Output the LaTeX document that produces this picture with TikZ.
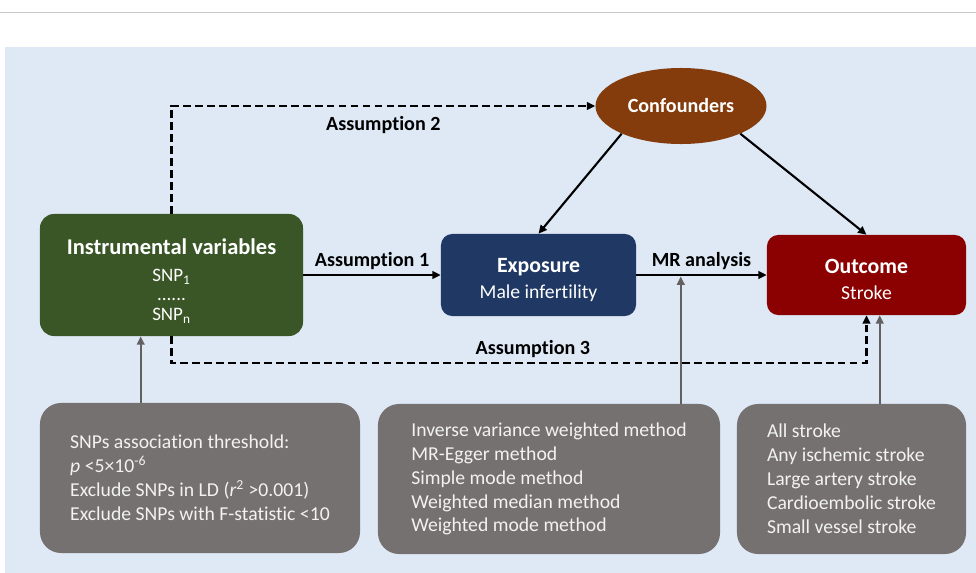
\documentclass[tikz,border=0pt]{standalone}
\usepackage{fontspec}
\setmainfont{Carlito}[Ligatures=NoCommon]
\usepackage{xcolor}
\usetikzlibrary{arrows.meta, positioning, shapes.geometric}
\definecolor{PanelBlue}{HTML}{DEE9F5}
\definecolor{IVGreen}{HTML}{3A5626}
\definecolor{ExpBlue}{HTML}{1F3864}
\definecolor{OutRed}{HTML}{8B0000}
\definecolor{ConfBrown}{HTML}{843C0C}
\definecolor{NoteGray}{HTML}{767171}
\definecolor{RuleGray}{HTML}{C8C8C8}

\begin{document}
\begin{tikzpicture}[x=0.025cm, y=-0.025cm,
    mainbox/.style={rounded corners=8pt, text=white, align=center, inner sep=0pt},
    notebox/.style={fill=NoteGray, rounded corners=15pt, text=white!95!black, align=left,
        inner sep=0pt, minimum height=3.75cm, font=\fontsize{14}{17}\selectfont},
    arr/.style={line width=1.5pt, -{Triangle[length=6pt,width=5.5pt]}},
    dasharr/.style={arr, line width=1.7pt, dash pattern=on 5.5pt off 3pt},
    grayarr/.style={line width=1.4pt, NoteGray!85!black, -{Triangle[length=6pt,width=5.5pt]}},
    lbl/.style={font=\bfseries\fontsize{14.3}{17}\selectfont}]
    \useasboundingbox (0,0) rectangle (976,573);

    % background panel and top rule
    \draw[RuleGray, line width=0.7pt] (0,12) -- (976,12);
    \fill[PanelBlue] (5,47) rectangle (976,573);

    % main boxes
    \node[mainbox, fill=IVGreen, rounded corners=10pt, minimum width=6.575cm, minimum height=3.05cm,
        font=\fontsize{13.5}{15}\selectfont] (iv) at (171.5,275)
        {\rule{0pt}{20pt}{\bfseries\fontsize{16}{18}\selectfont Instrumental variables}\\[4pt]
         SNP\textsubscript{1}\\[-1pt] ......\\[-1pt] SNP\textsubscript{n}};
    \node[mainbox, fill=ExpBlue, minimum width=4.875cm, minimum height=2.05cm,
        font=\fontsize{14}{17}\selectfont] (expo) at (538.5,275)
        {\rule{0pt}{17pt}{\bfseries\fontsize{15.5}{18}\selectfont Exposure}\\[1.5pt] Male infertility};
    \node[mainbox, fill=OutRed, minimum width=4.975cm, minimum height=2cm,
        font=\fontsize{14}{17}\selectfont] (outc) at (866.5,275)
        {\rule{0pt}{17pt}{\bfseries\fontsize{15.5}{18}\selectfont Outcome}\\[1.5pt] Stroke};
    \node[ellipse, fill=ConfBrown, text=white, minimum width=4.275cm, minimum height=1.9cm,
        inner sep=0pt, lbl] (conf) at (681,106) {Confounders};

    % notes
    \node[notebox, minimum width=8cm] (thr) at (200,478)
        {SNPs association threshold:\\
         \textit{p} <5\texttimes10\textsuperscript{-6}\\
         Exclude SNPs in LD (\textit{r}\textsuperscript{2} >0.001)\\
         Exclude SNPs with F-statistic <10};
    \node[notebox, minimum width=8.55cm] (meth) at (549,479)
        {Inverse variance weighted method\\ MR-Egger method\\ Simple mode method\\
         Weighted median method\\ Weighted mode method};
    \node[notebox, minimum width=5.725cm] (strk) at (851.5,479)
        {All stroke\\ Any ischemic stroke\\ Large artery stroke\\
         Cardioembolic stroke\\ Small vessel stroke};

    % assumptions and MR
    \draw[arr] (iv.east) -- node[lbl, above] {Assumption 1} (expo.west);
    \draw[arr] (expo.east) -- node[lbl, above] {MR analysis} (outc.west);
    \draw[arr] (conf.205) -- (expo.north);
    \draw[arr] (conf.335) -- (outc.north);
    \draw[dasharr] (iv.north) |- node[lbl, pos=0.75, below=3pt] {Assumption 2} (conf.west);
    \draw[dasharr] (iv.south) -- ++(0,27) -| node[lbl, pos=0.26, above] {Assumption 3} (outc.south);

    % notes to boxes
    \coordinate (g1) at ([xshift=2.525cm]thr.north west);
    \coordinate (g2) at ([xshift=7.575cm]meth.north west);
    \coordinate (g3) at ([xshift=3.575cm]strk.north west);
    \draw[grayarr] (g1) -- (g1 |- iv.south);
    \draw[grayarr, shorten >=1pt] (g2) -- (g2 |- expo.east);
    \draw[grayarr] (g3) -- (g3 |- outc.south);
\end{tikzpicture}
\end{document}
